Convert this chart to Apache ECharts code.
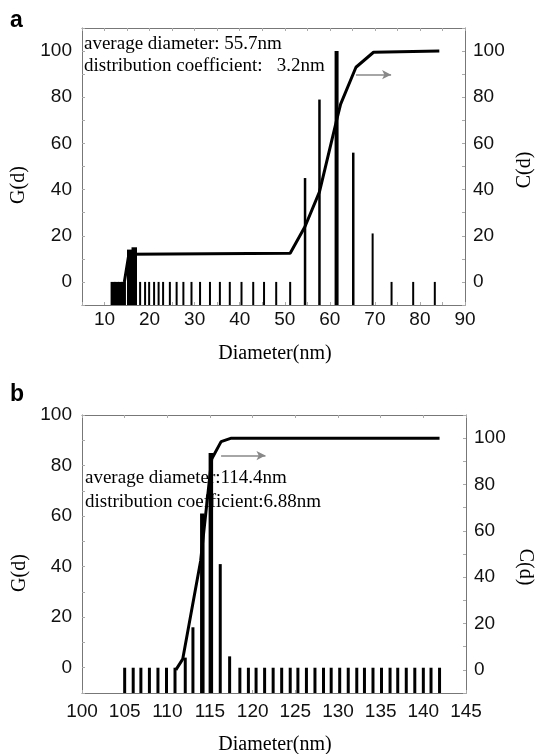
<!DOCTYPE html>
<html><head><meta charset="utf-8">
<script src="https://cdn.jsdelivr.net/npm/echarts@6/dist/echarts.min.js"></script>
<style>html,body{margin:0;padding:0;background:#fff}#c{width:540px;height:754px}</style>
</head><body><div id="c"></div>
<script>
// ---------- Panel a data ----------
var aBarX = [11.9,12.7,13.5,14.2,15.6,16.6,17.9,19.0,19.9,21.0,22.0,23.0,24.5,26.0,27.5,29.3,31.2,33.4,35.6,37.8,40.4,43.0,45.4,48.1,51.2,54.5,57.7,61.5,65.2,69.5,73.7,78.5,83.3];
var aBarG = [0,0,0,0,14,15,0,0,0,0,0,0,0,0,0,0,0,0,0,0,0,0,0,0,0,45,79,100,56,21,0,0,0];
var aLineX = [14.4,15.4,51.2,54.5,57.7,61.5,62.4,65.8,69.7,84.3];
var aLineC = [0,12,12.4,24,39,70,77,93,99.5,100];
var aArrow = [[65.8,89.8],[73.6,89.8]];
var aXTicks = [10,20,30,40,50,60,70,80,90];
var aYTicks = [0,20,40,60,80,100];
var aText = ['average diameter: 55.7nm','distribution coefficient:   3.2nm'];

// ---------- Panel b data ----------
var bBarX = [105.0,106.0,106.9,107.9,108.9,109.9,110.9,112.1,113.0,114.1,115.1,116.2,117.3,118.5,119.5,120.4,121.4,122.4,123.4,124.4,125.3,126.3,127.3,128.3,129.2,130.2,131.2,132.2,133.1,134.1,135.1,136.1,137.0,138.0,139.0,140.0,140.9,141.9];
var bBarG = [0,0,0,0,0,0,0,4,16,61,85,41,4.5,0,0,0,0,0,0,0,0,0,0,0,0,0,0,0,0,0,0,0,0,0,0,0,0,0];
var bLineX = [111.0,111.8,113.9,115.2,116.3,117.5,141.9];
var bLineC = [0,4.6,47,91,98.5,100,100];
var bArrow = [[116.3,92.5],[121.5,92.5]];
var bXTicks = [100,105,110,115,120,125,130,135,140,145];
var bYTicks = [0,20,40,60,80,100];
var bText = ['average diameter:114.4nm','distribution coefficient:6.88nm'];

var SANS = '"Liberation Sans", Arial, sans-serif';
var SERIF = '"Liberation Serif", "Times New Roman", serif';
var AXC = '#777';

function zip(xs, ys){ return xs.map(function(x,i){ return [x, ys[i]]; }); }

function makeBars(gridIdx, data, baseVal, widthFn){
  return {
    type:'custom', xAxisIndex: gridIdx*2, yAxisIndex: gridIdx*2, z:3, clip:true,
    data: data,
    renderItem: function(params, api){
      var x = api.value(0), v = api.value(1);
      var top = api.coord([x, v]);
      var base = api.coord([x, baseVal]);
      var w = widthFn(x, v);
      return {type:'rect', shape:{x: top[0]-w/2, y: top[1], width: w, height: base[1]-top[1]}, style:{fill:'#000'}};
    }
  };
}

function xAxes(gi, min, max, interval, ticks, margin){
  var common = {type:'value', gridIndex: gi, min:min, max:max, interval:interval,
    axisLine:{show:true, onZero:false, lineStyle:{color:AXC, width:1}},
    splitLine:{show:false}};
  return [
    Object.assign({}, common, {position:'bottom',
      axisTick:{show:true, inside:true, length:3, lineStyle:{color:'#aaa'}},
      axisLabel:{show:true, margin:margin, color:'#111', fontFamily:SANS, fontSize:19,
        formatter:function(v){ return ticks.indexOf(Math.round(v*100)/100) >= 0 ? String(v) : ''; }}}),
    Object.assign({}, common, {position:'top',
      axisTick:{show:true, inside:true, length:3, lineStyle:{color:'#aaa'}},
      axisLabel:{show:false}})
  ];
}

function yAxes(gi, lmin, lmax, rmin, rmax, ticks){
  function ax(pos, min, max){
    return {type:'value', gridIndex: gi, position:pos, min:min, max:max, interval:10,
      axisLine:{show:true, onZero:false, lineStyle:{color:AXC, width:1}},
      axisTick:{show:true, inside:true, length:3, lineStyle:{color:'#aaa'}},
      splitLine:{show:false},
      axisLabel:{show:true, margin: pos==='left'?10:8, color:'#111', fontFamily:SANS, fontSize:19,
        formatter:function(v){ return ticks.indexOf(Math.round(v)) >= 0 ? String(v) : ''; }}};
  }
  return [ax('left', lmin, lmax), ax('right', rmin, rmax)];
}

function arrowLine(gi, pts){
  return {type:'line', xAxisIndex: gi*2, yAxisIndex: gi*2+1, data:[], z:4,
    markLine:{silent:true, symbol:['none','arrow'], symbolSize:[7,9],
      lineStyle:{color:'#888', width:1.5, type:'solid'}, label:{show:false},
      data:[[{coord:pts[0]},{coord:pts[1]}]]}};
}

var chart = echarts.init(document.getElementById('c'), null, {renderer:'canvas'});
var option = {
  animation:false,
  backgroundColor:'#fff',
  grid:[
    {left:82, right:75, top:28, height:277, outerBoundsMode:'none', containLabel:false},
    {left:82, right:74, top:415, height:278, outerBoundsMode:'none', containLabel:false}
  ],
  xAxis: xAxes(0, 5, 90, 5, aXTicks, 5).concat(xAxes(1, 100, 145, 5, bXTicks, 9)),
  yAxis: yAxes(0, -10, 110, -10, 110, aYTicks).concat(yAxes(1, -10, 100, -10, 110, bYTicks)),
  series:[
    makeBars(0, zip(aBarX, aBarG), -10, function(x, v){ return x < 15 ? 5 : (x < 17 ? 5.5 : (v >= 90 ? 4 : (v > 30 ? 2.5 : 2))); }),
    {type:'line', xAxisIndex:0, yAxisIndex:1, data: zip(aLineX, aLineC), symbol:'none', z:4,
      lineStyle:{color:'#000', width:3}},
    arrowLine(0, aArrow),
    makeBars(1, zip(bBarX, bBarG), -10, function(x, v){ return v >= 50 ? 4.5 : 3; }),
    {type:'line', xAxisIndex:2, yAxisIndex:3, data: zip(bLineX, bLineC), symbol:'none', z:4,
      lineStyle:{color:'#000', width:3}},
    arrowLine(1, bArrow)
  ],
  graphic:[
    {type:'text', x:10, y:21, z:1, style:{text:'a', font:'bold 23px '+SANS, fill:'#000', textAlign:'left', textVerticalAlign:'middle', verticalAlign:'middle'}},
    {type:'text', x:10, y:395, z:1, style:{text:'b', font:'bold 23px '+SANS, fill:'#000', textAlign:'left', textVerticalAlign:'middle', verticalAlign:'middle'}},
    {type:'text', x:84, y:44, z:1, style:{text:aText[0], font:'19px '+SERIF, fill:'#000', textAlign:'left', textVerticalAlign:'middle', verticalAlign:'middle'}},
    {type:'text', x:84, y:66, z:1, style:{text:aText[1], font:'19px '+SERIF, fill:'#000', textAlign:'left', textVerticalAlign:'middle', verticalAlign:'middle'}},
    {type:'text', x:85, y:478, z:1, style:{text:bText[0], font:'19px '+SERIF, fill:'#000', textAlign:'left', textVerticalAlign:'middle', verticalAlign:'middle'}},
    {type:'text', x:85, y:502, z:1, style:{text:bText[1], font:'19px '+SERIF, fill:'#000', textAlign:'left', textVerticalAlign:'middle', verticalAlign:'middle'}},
    {type:'text', x:19, y:185, rotation:Math.PI/2, z:1, style:{text:'G(d)', font:'20px '+SERIF, fill:'#000', textAlign:'center', textVerticalAlign:'middle', verticalAlign:'middle'}},
    {type:'text', x:525, y:170, rotation:Math.PI/2, z:1, style:{text:'C(d)', font:'20px '+SERIF, fill:'#000', textAlign:'center', textVerticalAlign:'middle', verticalAlign:'middle'}},
    {type:'text', x:20, y:573, rotation:Math.PI/2, z:1, style:{text:'G(d)', font:'20px '+SERIF, fill:'#000', textAlign:'center', textVerticalAlign:'middle', verticalAlign:'middle'}},
    {type:'text', x:525, y:567, rotation:-Math.PI/2, z:1, style:{text:'C(d)', font:'20px '+SERIF, fill:'#000', textAlign:'center', textVerticalAlign:'middle', verticalAlign:'middle'}},
    {type:'text', x:275, y:354, z:1, style:{text:'Diameter(nm)', font:'20px '+SERIF, fill:'#000', textAlign:'center', textVerticalAlign:'middle', verticalAlign:'middle'}},
    {type:'text', x:275, y:745, z:1, style:{text:'Diameter(nm)', font:'20px '+SERIF, fill:'#000', textAlign:'center', textVerticalAlign:'middle', verticalAlign:'middle'}}
  ]
};
chart.setOption(option);
</script>
</body></html>
